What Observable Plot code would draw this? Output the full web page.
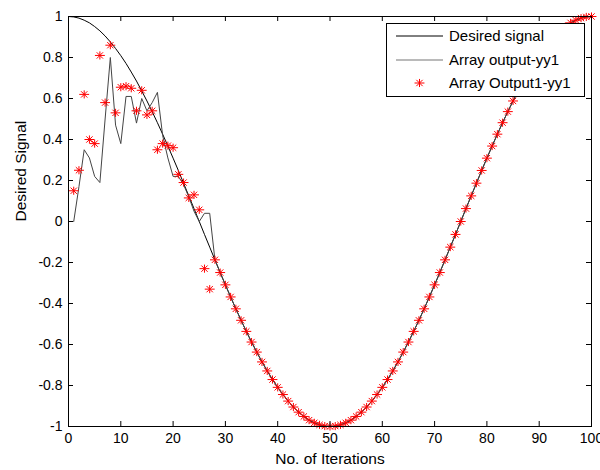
<!DOCTYPE html>
<html><head><meta charset="utf-8">
<script src="https://cdn.jsdelivr.net/npm/d3@7"></script>
<script src="https://cdn.jsdelivr.net/npm/@observablehq/plot@0.6"></script>
<style>
body{margin:0;background:#fff}
#chart{width:600px;height:470px}
</style>
</head><body><div id="chart"></div>
<script>
// ---- data ----
const iterations = d3.range(0, 101);            // x categories 0..100
const desiredSignal = [
  1.000, 0.998, 0.992, 0.982, 0.969, 0.951, 0.930, 0.905, 0.876, 0.844,
  0.809, 0.771, 0.729, 0.685, 0.637, 0.588, 0.536, 0.482, 0.426, 0.368,
  0.309, 0.249, 0.187, 0.125, 0.063, 0.000, -0.063, -0.125, -0.187, -0.249,
  -0.309, -0.368, -0.426, -0.482, -0.536, -0.588, -0.637, -0.685, -0.729, -0.771,
  -0.809, -0.844, -0.876, -0.905, -0.930, -0.951, -0.969, -0.982, -0.992, -0.998,
  -1.000, -0.998, -0.992, -0.982, -0.969, -0.951, -0.930, -0.905, -0.876, -0.844,
  -0.809, -0.771, -0.729, -0.685, -0.637, -0.588, -0.536, -0.482, -0.426, -0.368,
  -0.309, -0.249, -0.187, -0.125, -0.063, 0.000, 0.063, 0.125, 0.187, 0.249,
  0.309, 0.368, 0.426, 0.482, 0.536, 0.588, 0.637, 0.685, 0.729, 0.771,
  0.809, 0.844, 0.876, 0.905, 0.930, 0.951, 0.969, 0.982, 0.992, 0.998,
  1.000
];
// Array output-yy1, iterations 1..27 (after that it sits on the desired signal)
const arrayOutputEarly = [
  0.00, 0.17, 0.35, 0.31, 0.22, 0.19, 0.50, 0.80, 0.47, 0.38,
  0.61, 0.61, 0.48, 0.60, 0.54, 0.58, 0.63, 0.42, 0.31, 0.22,
  0.22, 0.18, 0.12, 0.05, 0.00, 0.04, 0.04
];
// Array Output1-yy1, iterations 1..27 (after that it sits on the desired signal)
const arrayOutput1Early = [
  0.15, 0.25, 0.62, 0.40, 0.38, 0.81, 0.58, 0.86, 0.53, 0.655,
  0.66, 0.65, 0.54, 0.64, 0.52, 0.54, 0.35, 0.38, 0.37, 0.36,
  0.23, 0.19, 0.115, 0.13, 0.057, -0.23, -0.33
];
const xTicks = [0, 10, 20, 30, 40, 50, 60, 70, 80, 90, 100];
const yTicks = [-1, -0.8, -0.6, -0.4, -0.2, 0, 0.2, 0.4, 0.6, 0.8, 1];
const seriesNames = ["Desired signal", "Array output-yy1", "Array Output1-yy1"];
const xTitle = "No. of Iterations";
const yTitle = "Desired Signal";

// ---- tables ----
const desiredRows = iterations.map((n, i) => ({n, v: desiredSignal[i]}));
const outIters = iterations.slice(1);
const arrayOutput = arrayOutputEarly.concat(desiredSignal.slice(arrayOutputEarly.length + 1));
const arrayOutput1 = arrayOutput1Early.concat(desiredSignal.slice(arrayOutput1Early.length + 1));
const outRows = outIters.map((n, i) => ({n, v: arrayOutput[i]}));
const out1Rows = outIters.map((n, i) => ({n, v: arrayOutput1[i]}));

// MATLAB-like '*' marker
const matlabStar = {
  draw(ctx, size) {
    const r = Math.sqrt(size / Math.PI);
    const h = r * 1.1, v = r * 0.9, d = r * 0.7;
    ctx.moveTo(-h, 0); ctx.lineTo(h, 0);
    ctx.moveTo(0, -v); ctx.lineTo(0, v);
    ctx.moveTo(-d, -d); ctx.lineTo(d, d);
    ctx.moveTo(-d, d); ctx.lineTo(d, -d);
  }
};

const FONT = "'Liberation Sans', Arial, Helvetica, sans-serif";
const fmt = d => String(Math.round(d * 10) / 10);
const W = 600, H = 470, ML = 68, MR = 9, MT = 16, MB = 44;
const frameW = W - ML - MR, frameH = H - MT - MB, TICK = 5;

const plot = Plot.plot({
  width: W, height: H,
  marginLeft: ML, marginRight: MR, marginTop: MT, marginBottom: MB,
  style: {fontFamily: FONT, fontSize: "14px", background: "white", color: "black"},
  x: {domain: [0, 100]},
  y: {domain: [-1, 1]},
  marks: [
    Plot.line(desiredRows, {x: "n", y: "v", stroke: "black", strokeWidth: 1}),
    Plot.line(outRows, {x: "n", y: "v", stroke: "#444", strokeWidth: 1}),
    Plot.dot(out1Rows, {x: "n", y: "v", symbol: matlabStar, r: 4.5, stroke: "#ff0000", strokeWidth: 1, fill: "none"}),
    Plot.frame({stroke: "black", strokeWidth: 1}),
    // inward ticks on all four sides
    Plot.tickX(xTicks, {x: d => d, stroke: "black", insetTop: frameH - TICK}),
    Plot.tickX(xTicks, {x: d => d, stroke: "black", insetBottom: frameH - TICK}),
    Plot.tickY(yTicks, {y: d => d, stroke: "black", insetRight: frameW - TICK}),
    Plot.tickY(yTicks, {y: d => d, stroke: "black", insetLeft: frameW - TICK}),
    Plot.axisX(xTicks, {anchor: "bottom", tickSize: 0, tickPadding: 7, tickFormat: fmt, label: null, fontSize: 14}),
    Plot.axisY(yTicks, {anchor: "left", tickSize: 0, tickPadding: 6, tickFormat: fmt, label: null, fontSize: 14}),
    Plot.text([xTitle], {text: d => d, frameAnchor: "bottom", dy: 33, fontSize: 15.5, lineAnchor: "middle"}),
    Plot.text([yTitle], {text: d => d, frameAnchor: "left", dx: -47, rotate: -90, fontSize: 15.5, lineAnchor: "middle"})
  ]
});

// ---- legend (MATLAB-style box, upper right) ----
const svg = d3.select(plot);
const lg = svg.append("g").attr("font-family", FONT).attr("font-size", 15).attr("text-anchor", "start");
lg.append("rect").attr("x", 386.5).attr("y", 23.5).attr("width", 198).attr("height", 73)
  .attr("fill", "white").attr("stroke", "black").attr("stroke-width", 1);
const rowsY = [36, 60, 83];
lg.append("line").attr("x1", 396).attr("x2", 443).attr("y1", rowsY[0]).attr("y2", rowsY[0])
  .attr("stroke", "black").attr("stroke-width", 1);
lg.append("line").attr("x1", 396).attr("x2", 443).attr("y1", rowsY[1]).attr("y2", rowsY[1])
  .attr("stroke", "#777").attr("stroke-width", 1.2);
const st = d3.path();
matlabStar.draw(st, Math.PI * 4.5 * 4.5);
lg.append("path").attr("d", st.toString()).attr("transform", `translate(419.5,${rowsY[2]})`)
  .attr("stroke", "#ff0000").attr("fill", "none");
seriesNames.forEach((s, i) => {
  lg.append("text").attr("x", 449).attr("y", rowsY[i]).attr("dy", "0.35em")
    .attr("text-anchor", "start").attr("fill", "black").text(s);
});

document.getElementById("chart").appendChild(plot);
</script>
</body></html>
